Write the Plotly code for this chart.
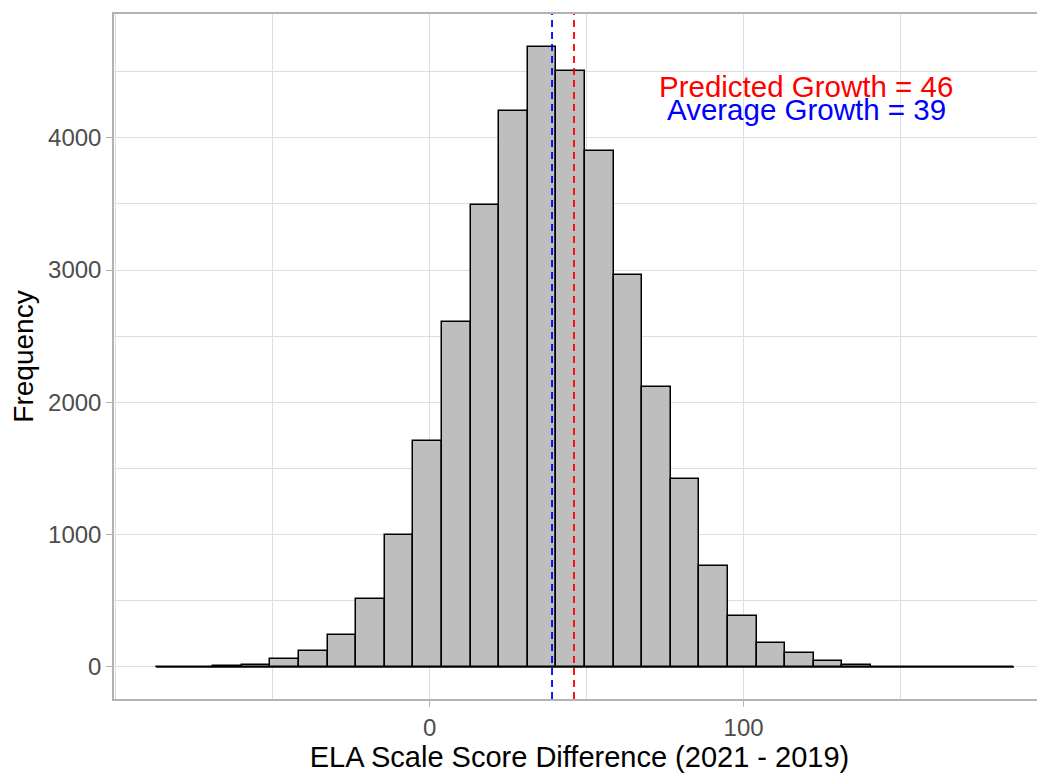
import numpy as np
import plotly.graph_objects as go

# histogram of ELA scale score differences, 30 bins
bin_start = -87.1
bin_width = 9.107
counts = [1, 2, 8, 12, 60, 123, 244, 515, 1000, 1708,
          2605, 3490, 4205, 4686, 4502, 3898, 2962, 2117, 1422, 765,
          383, 183, 106, 45, 12, 3, 1, 1, 0, 1]

x_ticks = [0, 100]
y_ticks = [0, 1000, 2000, 3000, 4000]

predicted_growth = 46
average_growth = 39

edges = bin_start + bin_width * np.arange(len(counts) + 1)
centers = (edges[:-1] + edges[1:]) / 2

FONT = "Liberation Sans, Arial, sans-serif"
GRID = "#dedede"
BORDER = "#b3b3b3"

fig = go.Figure()

# zero-height bins show up as a baseline in ggplot
fig.add_trace(go.Scatter(x=[edges[0], edges[-1]], y=[0, 0], mode="lines",
                         line=dict(color="black", width=1.5),
                         hoverinfo="skip", showlegend=False))

fig.add_trace(go.Bar(x=centers, y=counts, width=bin_width,
                     marker=dict(color="#bebebe",
                                 line=dict(color="black", width=1.5)),
                     showlegend=False))

fig.add_shape(type="line", xref="x", yref="paper",
              x0=average_growth, x1=average_growth, y0=0, y1=1,
              line=dict(color="blue", width=1.8, dash="7px,5px"))
fig.add_shape(type="line", xref="x", yref="paper",
              x0=predicted_growth, x1=predicted_growth, y0=0, y1=1,
              line=dict(color="red", width=1.8, dash="7px,5px"))

fig.add_annotation(x=120, y=4390, text=f"Predicted Growth = {predicted_growth}",
                   showarrow=False, font=dict(color="red", size=29.5, family=FONT))
fig.add_annotation(x=120, y=4210, text=f"Average Growth = {average_growth}",
                   showarrow=False, font=dict(color="blue", size=29.5, family=FONT))

# the page body adds an 8px offset, so the figure is sized to end at the window edge
fig.update_layout(
    width=1037, height=766,
    margin=dict(l=106, r=0, t=6, b=75),
    plot_bgcolor="white", paper_bgcolor="white",
    font=dict(family=FONT),
    bargap=0,
    xaxis=dict(
        range=[-100.5, 196.0],
        tickvals=x_ticks,
        showgrid=True, gridcolor=GRID, gridwidth=1.3,
        minor=dict(dtick=50, tick0=0, showgrid=True, gridcolor=GRID, gridwidth=1),
        zeroline=False, automargin=False,
        showline=True, linecolor=BORDER, linewidth=1.5, mirror=True,
        ticks="outside", ticklen=6, tickcolor=BORDER, tickwidth=1.3,
        tickfont=dict(size=24, color="#4d4d4d"),
        title=dict(text="ELA Scale Score Difference (2021 - 2019)",
                   font=dict(size=29, color="black"), standoff=6),
    ),
    yaxis=dict(
        range=[-242, 4935],
        tickvals=y_ticks,
        showgrid=True, gridcolor=GRID, gridwidth=1.3,
        minor=dict(dtick=500, tick0=0, showgrid=True, gridcolor=GRID, gridwidth=1),
        zeroline=False, automargin=False,
        showline=True, linecolor=BORDER, linewidth=1.5,
        ticks="outside", ticklen=6, tickcolor=BORDER, tickwidth=1.3,
        tickfont=dict(size=24, color="#4d4d4d"),
        title=dict(text="Frequency", font=dict(size=28, color="black"), standoff=8),
    ),
)

fig.write_html("out.html")
